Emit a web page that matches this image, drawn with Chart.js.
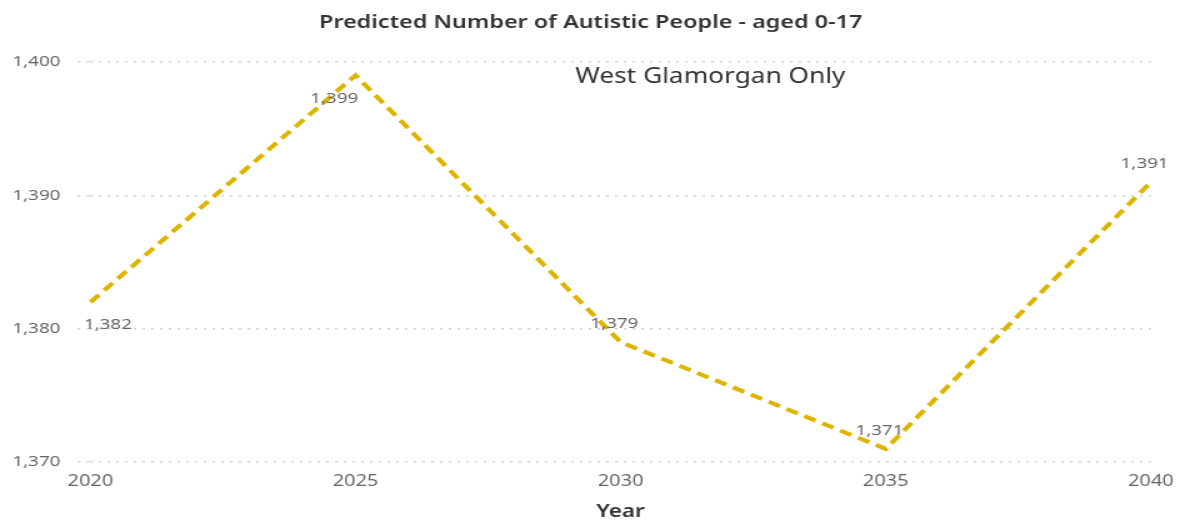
<!DOCTYPE html>
<html>
<head>
<meta charset="utf-8">
<script src="https://cdn.jsdelivr.net/npm/chart.js@4.4.0/dist/chart.umd.min.js"></script>
<style>
  html, body { margin: 0; padding: 0; background: #fff; overflow: hidden; }
  /* the reference picture is stretched sideways, so the chart is too */
  #wrap { width: 949px; height: 520px; transform: scaleX(1.25); transform-origin: 0 0; }
</style>
</head>
<body>
<div id="wrap"><canvas id="chart" width="949" height="520"></canvas></div>
<script>
    const years = ['2020', '2025', '2030', '2035', '2040'];
    const autisticPeople = [1382, 1399, 1379, 1371, 1391];
    const yTicks = [1370, 1380, 1390, 1400];
    // where each value label sits relative to its point
    const labelSide = ['below', 'below', 'above', 'above', 'above'];

    const lineColor = '#DDB400';
    const tickColor = '#666666';
    const gridColor = '#d0d0d0';
    const fontName = '"Noto Sans", "Open Sans", sans-serif';

    var fmt = function(v) {
        return Number(v).toLocaleString('en-US');
    };

    // value labels next to each point + the "West Glamorgan Only" note
    var labelsPlugin = {
        id: 'labels',
        afterDatasetsDraw: function(chart) {
            const ctx = chart.ctx;
            const meta = chart.getDatasetMeta(0);
            ctx.save();
            ctx.font = '15px ' + fontName;
            ctx.fillStyle = tickColor;
            ctx.textAlign = 'center';
            ctx.textBaseline = 'middle';
            meta.data.forEach(function(pt, i) {
                let dy = labelSide[i] == 'below' ? 23 : -18;
                let dx = i == 0 ? 14 : (i == 1 ? -17 : -5);
                ctx.fillText(fmt(autisticPeople[i]), pt.x + dx, pt.y + dy);
            });
            const area = chart.chartArea;
            ctx.font = '21px ' + fontName;
            ctx.fillStyle = '#333333';
            ctx.textAlign = 'left';
            ctx.fillText('West Glamorgan Only', area.left + 388, area.top + 15);
            ctx.restore();
        }
    };

    var chart = new Chart(document.getElementById('chart'), {
        type: 'line',
        data: {
            labels: years,
            datasets: [{
                label: 'Predicted Number of Autistic People',
                data: autisticPeople,
                borderColor: lineColor,
                borderWidth: 4,
                borderDash: [10, 6],
                pointRadius: 0,
                tension: 0,
                fill: false
            }]
        },
        options: {
            responsive: false,
            animation: false,
            layout: { padding: { left: -4, right: 0, bottom: 0 } },
            plugins: {
                legend: { display: false },
                tooltip: { enabled: false },
                title: {
                    display: true,
                    text: 'Predicted Number of Autistic People - aged 0-17',
                    color: '#333333',
                    font: { family: fontName, size: 18.7, weight: '600' },
                    padding: { top: 11, bottom: 28.5 }
                }
            },
            scales: {
                x: {
                    offset: false,
                    grid: { display: false, drawTicks: false },
                    border: { display: false },
                    ticks: {
                        color: tickColor,
                        font: { family: fontName, size: 16 },
                        padding: 10,
                        maxRotation: 0
                    },
                    title: {
                        display: true,
                        text: 'Year',
                        color: '#333333',
                        font: { family: fontName, size: 18, weight: '600' },
                        padding: { top: 0, bottom: -3 }
                    }
                },
                y: {
                    min: yTicks[0],
                    max: yTicks[yTicks.length - 1],
                    afterBuildTicks: function(axis) {
                        axis.ticks = yTicks.map(function(v) { return { value: v }; });
                    },
                    grid: {
                        color: gridColor,
                        lineWidth: 1.5,
                        drawTicks: true,
                        tickLength: 10,
                        tickColor: gridColor,
                        tickBorderDash: [2, 5]
                    },
                    border: { display: false, dash: [2, 5] },
                    ticks: {
                        color: tickColor,
                        font: { family: fontName, size: 15 },
                        padding: 14,
                        callback: function(v) { return fmt(v); }
                    }
                }
            }
        },
        plugins: [labelsPlugin]
    });
</script>
</body>
</html>
